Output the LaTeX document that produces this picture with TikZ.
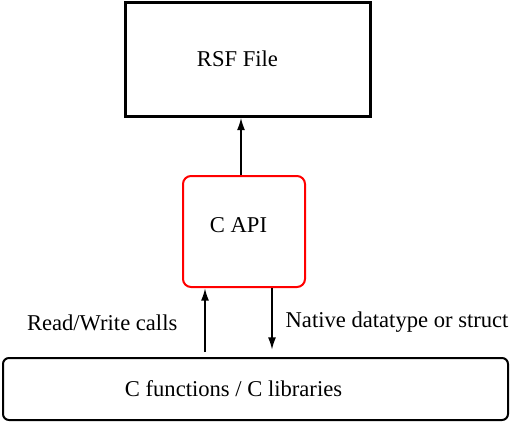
\documentclass[tikz,border=0pt]{standalone}
\usepackage{fontspec}
\setmainfont{Liberation Serif}
\usetikzlibrary{arrows.meta,positioning}
\tikzset{box/.style={draw,line width=1pt,minimum width=252.5pt,minimum height=31pt,rounded corners=3pt,align=center,font=\fontsize{11.3}{13}\selectfont},file/.style={box,line width=1.5pt,rounded corners=0pt,minimum width=122.5pt,minimum height=57pt},api/.style={box,draw=red,rounded corners=4pt,minimum width=61pt,minimum height=55.5pt},txt/.style={font=\fontsize{11.3}{13}\selectfont},edge/.style={-{Latex[length=2.2mm,width=1.4mm]},line width=1pt,font=\fontsize{11.3}{13}\selectfont}}
\begin{document}
\begin{tikzpicture}[x=0.5pt,y=-0.5pt]
\useasboundingbox (0,0) rectangle (510,423);
\node[file,label={[txt,xshift=-5pt]center:RSF File}] (rsf) at (247.5,59) {};
\node[api,label={[txt,xshift=-2.75pt,yshift=3pt]center:C API}] (capi) at (244,231.5) {};
\node[box,label={[txt,xshift=-11pt]center:C functions / C libraries}] (clib) at (255.5,389) {};
\draw[edge] ([xshift=-1.5pt]capi.north) -- ([xshift=-1.5pt]capi.north |- rsf.south);
\draw[edge,shorten <=2.5pt] ([xshift=-19.5pt]capi.south |- clib.north) -- node[left=10pt]{Read/Write calls} ([xshift=-19.5pt]capi.south);\draw[edge,shorten >=3.5pt] ([xshift=14pt]capi.south) -- node[right=3pt]{Native datatype or struct} ([xshift=14pt]capi.south |- clib.north);
\end{tikzpicture}
\end{document}
